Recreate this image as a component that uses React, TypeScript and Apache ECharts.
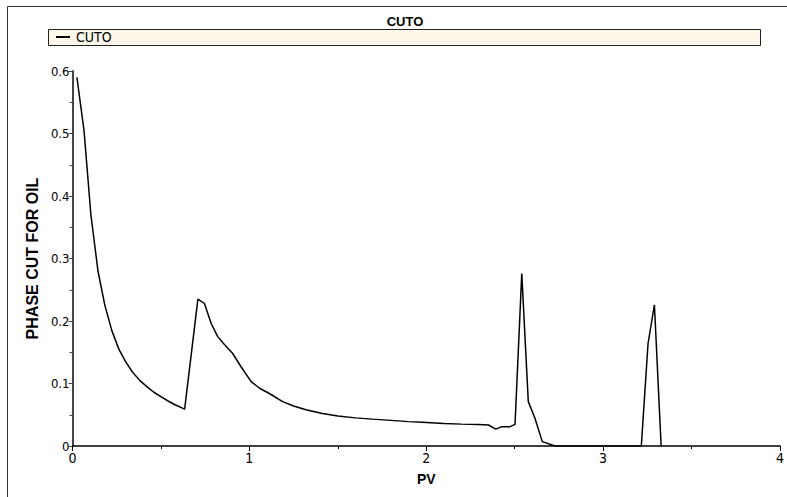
import React, { useEffect, useRef } from "react";
import * as echarts from "echarts";

const seriesName = "CUTO";
const pv = [
  0.025, 0.065, 0.104, 0.144, 0.183, 0.222, 0.262, 0.3, 0.34, 0.38, 0.42, 0.46, 0.5, 0.54, 0.58, 0.634,
  0.709, 0.746, 0.784, 0.821, 0.86, 0.906, 0.95, 1.01, 1.06, 1.113, 1.188, 1.25, 1.32, 1.413, 1.5, 1.6,
  1.695, 1.8, 1.9, 1.976, 2.1, 2.2, 2.296, 2.352, 2.393, 2.427, 2.474, 2.502, 2.54, 2.577, 2.615, 2.656,
  2.728, 2.8, 2.9, 3.0, 3.1, 3.216, 3.254, 3.29, 3.328,
];
const cuto = [
  0.59, 0.505, 0.37, 0.28, 0.225, 0.185, 0.155, 0.135, 0.118, 0.105, 0.095, 0.086, 0.079, 0.072, 0.066, 0.059,
  0.235, 0.228, 0.196, 0.175, 0.162, 0.148, 0.128, 0.103, 0.092, 0.084, 0.071, 0.064, 0.058, 0.052, 0.048, 0.045,
  0.043, 0.041, 0.039, 0.038, 0.036, 0.035, 0.0345, 0.0336, 0.027, 0.031, 0.031, 0.0347, 0.276, 0.071, 0.044, 0.007,
  0, 0, 0, 0, 0, 0, 0.164, 0.226, 0,
];
const xTicks = [0, 1, 2, 3, 4];
const yTicks = [0, 0.1, 0.2, 0.3, 0.4, 0.5, 0.6];

const NARROW = "'DejaVu Sans Condensed', 'Liberation Sans', Arial, sans-serif";
const SANS = "'Liberation Sans', Arial, sans-serif";

export default function App() {
  const ref = useRef<HTMLDivElement>(null);
  useEffect(() => {
    if (!ref.current) return;
    const chart = echarts.init(ref.current, undefined, { renderer: "svg" });
    const data = pv.map((x, i) => [x, cuto[i]]);
    chart.setOption({
      animation: false,
      backgroundColor: "#ffffff",
      grid: { left: 72.5, right: 4.5, top: 71, bottom: 51, containLabel: false },
      title: {
        text: "CUTO",
        left: 405,
        top: 15,
        padding: 0,
        textAlign: "center",
        textStyle: { fontFamily: SANS, fontWeight: "bold", fontSize: 13, color: "#000" },
      },
      legend: {
        left: 56,
        top: 30,
        padding: 0,
        itemWidth: 14,
        itemHeight: 2,
        icon: "rect",
        itemGap: 8,
        textStyle: { fontFamily: NARROW, fontSize: 14, color: "#000", padding: [0, 0, 0, 1] },
        data: [seriesName],
      },
      graphic: [
        {
          type: "polyline",
          z: -1,
          shape: { points: [[7.5, 497], [7.5, 6.5], [787, 6.5]] },
          style: { stroke: "#333", lineWidth: 1, fill: "none" },
          silent: true,
        },
        {
          type: "rect",
          z: -1,
          shape: { x: 48.5, y: 29.5, width: 712, height: 16 },
          style: { fill: "#FDF8EA", stroke: "#222", lineWidth: 1 },
          silent: true,
        },
      ],
      xAxis: {
        type: "value",
        min: xTicks[0],
        max: xTicks[xTicks.length - 1],
        interval: 1,
        name: "PV",
        nameLocation: "middle",
        nameGap: 26,
        nameTextStyle: { fontFamily: SANS, fontWeight: "bold", fontSize: 14, color: "#000" },
        axisLine: { show: true, onZero: false, lineStyle: { color: "#000", width: 1.5 } },
        axisTick: { show: true, length: 5, lineStyle: { color: "#000" } },
        minorTick: { show: true, splitNumber: 2, length: 3, lineStyle: { color: "#000" } },
        splitLine: { show: false },
        axisLabel: { fontFamily: NARROW, fontSize: 14, color: "#000", margin: 5 },
      },
      yAxis: {
        type: "value",
        min: yTicks[0],
        max: yTicks[yTicks.length - 1],
        interval: 0.1,
        name: "PHASE CUT FOR OIL",
        nameLocation: "middle",
        nameGap: 31,
        nameTextStyle: { fontFamily: SANS, fontWeight: "bold", fontSize: 16, color: "#000" },
        axisLine: { show: true, lineStyle: { color: "#444", width: 2 } },
        axisTick: { show: true, length: 4, lineStyle: { color: "#444" } },
        minorTick: { show: true, splitNumber: 2, length: 3, lineStyle: { color: "#444" } },
        splitLine: { show: false },
        axisLabel: { fontFamily: NARROW, fontSize: 13, color: "#000", margin: 3 },
      },
      series: [
        {
          name: seriesName,
          type: "line",
          data,
          showSymbol: false,
          symbol: "none",
          lineStyle: { color: "#000", width: 1.5 },
          itemStyle: { color: "#000" },
        },
      ],
    });
    return () => chart.dispose();
  }, []);
  return (
    <div
      ref={ref}
      style={{ position: "fixed", left: 0, top: 0, width: 787, height: 497 }}
    />
  );
}
